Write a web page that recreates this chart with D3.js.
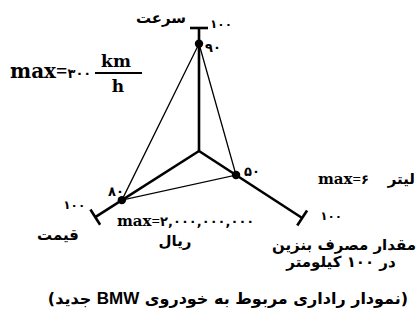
<!DOCTYPE html>
<html>
<head>
<meta charset="utf-8">
<script src="https://cdn.jsdelivr.net/npm/d3@7/dist/d3.min.js"></script>
<style>
  html, body { margin: 0; padding: 0; background: #fff; }
  svg { display: block; }
  .fa { font-family: "DejaVu Sans", sans-serif; font-weight: bold; }
  .lat { font-family: "DejaVu Serif", "Liberation Serif", serif; font-weight: bold; }
  .eq { font-family: "Liberation Serif", serif; font-weight: bold; }
  .brand { font-family: "Liberation Sans", Arial, sans-serif; font-weight: bold; }
</style>
</head>
<body>
<svg id="chart" width="420" height="325"></svg>
<script>
// Radar axes (clockwise from the top) and the car's scores on each
const axisNames = ["سرعت", "مقدار مصرف بنزین", "قیمت"];
const values = [90, 50, 80];
const axisMax = 100;
const caption = ["(نمودار راداری مربوط به خودروی ", "BMW", " جدید)"];

const faDigits = "۰۱۲۳۴۵۶۷۸۹";
const toFa = n => String(n).replace(/\d/g, c => faDigits[+c]);

const svg = d3.select("#chart");
const cx = 199, cy = 151, R = 123;
const angles = [-90, 33, 147.5].map(a => a * Math.PI / 180);

const r = d3.scaleLinear().domain([22, axisMax]).range([0, R]);
const pt = (i, v) => [cx + Math.cos(angles[i]) * r(v), cy + Math.sin(angles[i]) * r(v)];

const g = svg.append("g");

// thick axis spokes
g.selectAll("line.axis").data(axisNames).join("line")
  .attr("class", "axis")
  .attr("x1", cx).attr("y1", cy)
  .attr("x2", (d, i) => pt(i, axisMax)[0])
  .attr("y2", (d, i) => pt(i, axisMax)[1])
  .attr("stroke", "#000").attr("stroke-width", 2.6);

// end-of-axis tick bars
g.selectAll("line.cap").data(axisNames).join("line")
  .attr("class", "cap")
  .each(function (d, i) {
    const [x, y] = pt(i, axisMax);
    const px = -Math.sin(angles[i]) * 9, py = Math.cos(angles[i]) * 9;
    d3.select(this).attr("x1", x - px).attr("y1", y - py).attr("x2", x + px).attr("y2", y + py);
  })
  .attr("stroke", "#000").attr("stroke-width", 2.6);

// polygon through the values
const poly = values.map((v, i) => pt(i, v));
g.append("path")
  .attr("d", d3.line()(poly) + "Z")
  .attr("fill", "none").attr("stroke", "#000").attr("stroke-width", 1.3);

g.selectAll("circle").data(values).join("circle")
  .attr("cx", (v, i) => pt(i, v)[0])
  .attr("cy", (v, i) => pt(i, v)[1])
  .attr("r", 4.2).attr("fill", "#000");

// value labels next to points
const valOff = [[6, 8, "start"], [8, 1, "start"], [2, -4, "end"]];
g.selectAll("text.val").data(values).join("text")
  .attr("class", "fa val")
  .attr("x", (v, i) => pt(i, v)[0] + valOff[i][0])
  .attr("y", (v, i) => pt(i, v)[1] + valOff[i][1])
  .attr("text-anchor", (v, i) => valOff[i][2])
  .attr("font-size", 13)
  .text(v => toFa(v));

// "100" at the end of each axis
const tickOff = [[11, 0, "start"], [18, 2, "start"], [-10, -8, "end"]];
g.selectAll("text.tick").data(axisNames).join("text")
  .attr("class", "fa tick")
  .attr("x", (d, i) => pt(i, axisMax)[0] + tickOff[i][0])
  .attr("y", (d, i) => pt(i, axisMax)[1] + tickOff[i][1])
  .attr("text-anchor", (d, i) => tickOff[i][2])
  .attr("font-size", 12)
  .text(toFa(axisMax));

// axis names
g.append("text").attr("class", "fa").attr("x", 161).attr("y", 23)
  .attr("text-anchor", "middle").attr("font-size", 15).text(axisNames[0]);
g.append("text").attr("class", "fa").attr("x", 344).attr("y", 250)
  .attr("text-anchor", "middle").attr("direction", "rtl").attr("font-size", 15)
  .text(axisNames[1]);
g.append("text").attr("class", "fa").attr("x", 341).attr("y", 267)
  .attr("text-anchor", "middle").attr("direction", "rtl").attr("font-size", 15)
  .text("در " + toFa(100) + " کیلومتر");
g.append("text").attr("class", "fa").attr("x", 58).attr("y", 240)
  .attr("text-anchor", "middle").attr("font-size", 15).text(axisNames[2]);

// scale maxima
const maxLabel = (x, y, num, size) => {
  const t = g.append("text").attr("x", x).attr("y", y).attr("font-size", size);
  t.append("tspan").attr("class", "lat").text("max");
  t.append("tspan").attr("class", "eq").text("=");
  t.append("tspan").attr("class", "fa").attr("font-size", 13).text(num);
  return t;
};
maxLabel(10, 78, toFa(300), 20);
g.append("text").attr("class", "lat").attr("x", 116).attr("y", 67)
  .attr("text-anchor", "middle").attr("font-size", 17).text("km");
g.append("line").attr("x1", 95).attr("x2", 142).attr("y1", 73).attr("y2", 73)
  .attr("stroke", "#000").attr("stroke-width", 2);
g.append("text").attr("class", "lat").attr("x", 118).attr("y", 92)
  .attr("text-anchor", "middle").attr("font-size", 17).text("h");

maxLabel(117, 226, "۲,۰۰۰,۰۰۰,۰۰۰", 15);
g.append("text").attr("class", "fa").attr("x", 175).attr("y", 246)
  .attr("text-anchor", "middle").attr("font-size", 15).text("ریال");

maxLabel(318, 184, toFa(6), 15);
g.append("text").attr("class", "fa").attr("x", 415).attr("y", 184)
  .attr("text-anchor", "end").attr("font-size", 15).text("لیتر");

// caption
const cap = svg.append("text").attr("x", 228).attr("y", 304)
  .attr("text-anchor", "middle").attr("direction", "rtl").attr("font-size", 16);
cap.append("tspan").attr("class", "fa").text(caption[0]);
cap.append("tspan").attr("class", "brand").attr("font-size", 17).text(caption[1]);
cap.append("tspan").attr("class", "fa").text(caption[2]);
</script>
</body>
</html>
